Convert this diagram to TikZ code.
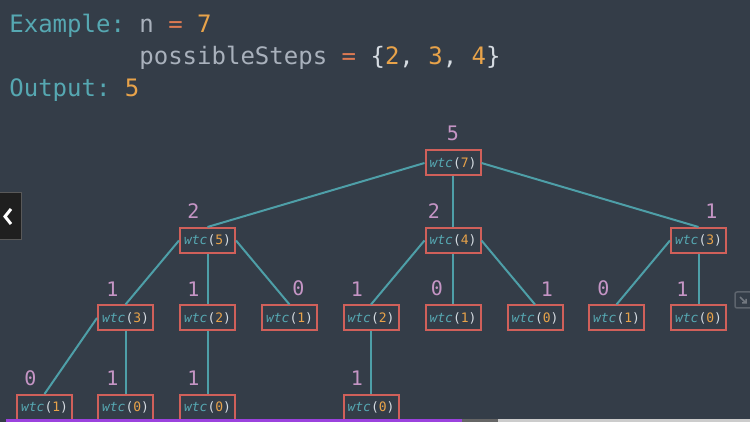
\documentclass[tikz,border=0pt]{standalone}
\usepackage{fontspec}
\setmonofont{DejaVu Sans Mono}
\usetikzlibrary{trees}

\definecolor{bgslate}{HTML}{343D48}
\definecolor{kwteal}{HTML}{56A8B2}
\definecolor{idgray}{HTML}{A9B1BC}
\definecolor{eqorange}{HTML}{DE7A52}
\definecolor{numorange}{HTML}{E8A34A}
\definecolor{brwhite}{HTML}{D6DCE2}
\definecolor{cntpink}{HTML}{C595C5}
\definecolor{boxred}{HTML}{D0605A}
\definecolor{edgeteal}{HTML}{4E9FA8}
\definecolor{barpurple}{HTML}{9B42DE}

\newcommand{\wtc}[1]{\textcolor{kwteal}{\itshape wtc}\textcolor{brwhite}{(}\textcolor{numorange}{#1}\textcolor{brwhite}{)}}

\begin{document}
\begin{tikzpicture}[x=0.5pt, y=-0.5pt, label distance=4pt,
	parent anchor=south, child anchor=north]
	\tikzstyle{box}=[draw=boxred, line width=1pt, inner xsep=2pt, inner ysep=0pt,
	minimum width=27.5pt, minimum height=12.5pt,
	font=\ttfamily\fontsize{6.5}{8}\selectfont]
	\tikzstyle{lbl}=[text=cntpink, inner sep=0pt, font=\ttfamily\fontsize{10}{12}\selectfont]
	\tikzstyle{cnt}=[label={[lbl]above:#1}]
	\tikzset{cntl/.style 2 args={label={[lbl,xshift=#1]above:#2}}}
	\tikzstyle{hdr}=[anchor=base west, inner sep=0pt, font=\ttfamily\fontsize{12}{14}\selectfont]
	\tikzstyle{lc}=[parent anchor=west]
	\tikzstyle{mc}=[parent anchor=south]
	\tikzstyle{rc}=[parent anchor=east]
	\tikzstyle{every child node}=[box]
	\tikzstyle{edge from parent}=[draw=edgeteal, line width=1pt]
	\tikzstyle{level 1}=[sibling distance=122.75pt, level distance=38.75pt]
	\tikzstyle{level 2}=[sibling distance=41pt, level distance=38.75pt]
	\tikzstyle{level 3}=[sibling distance=40.5pt, level distance=44.75pt]

	% background
	\fill[bgslate] (0,0) rectangle (750,422);
	\useasboundingbox (0,0) rectangle (750,422);

	% example text
	\node[hdr] (ex) at (9,33) {\textcolor{kwteal}{Example:} \textcolor{idgray}{n} \textcolor{eqorange}{=} \textcolor{numorange}{7}};
	\node[hdr] (st) at (139,65) {\textcolor{idgray}{possibleSteps} \textcolor{eqorange}{=} \textcolor{brwhite}{\{}\textcolor{numorange}{2}\textcolor{brwhite}{,} \textcolor{numorange}{3}\textcolor{brwhite}{,} \textcolor{numorange}{4}\textcolor{brwhite}{\}}};
	\node[hdr] (out) at (9,97) {\textcolor{kwteal}{Output:} \textcolor{numorange}{5}};

	% call tree
	\node[box, cnt=5] (r7) at (453,163) {\wtc{7}}
	child[lc] {node[cntl={-7pt}{2}] (a5) {\wtc{5}}
		child[lc] {node[cntl={-6.5pt}{1}] (b3) {\wtc{3}}
			child[lc] {node[cntl={-7pt}{0}] (e1) {\wtc{1}}}
			child[mc] {node[cntl={-6.5pt}{1}] (e0) {\wtc{0}}}
			child[missing]
		}
		child[mc] {node[cntl={-7pt}{1}] (b2) {\wtc{2}}
			child[mc] {node[cntl={-7pt}{1}] (f0) {\wtc{0}}}
		}
		child[rc] {node[cntl={4.5pt}{0}] (b1) {\wtc{1}}}
	}
	child[mc] {node[cntl={-9.5pt}{2}] (a4) {\wtc{4}}
		child[lc] {node[cntl={-7pt}{1}] (c2) {\wtc{2}}
			child[mc] {node[cntl={-7pt}{1}] (g0) {\wtc{0}}}
		}
		child[mc] {node[cntl={-8pt}{0}] (c1) {\wtc{1}}}
		child[rc] {node[cntl={6pt}{1}] (c0) {\wtc{0}}}
	}
	child[rc] {node[cntl={6.5pt}{1}] (a3) {\wtc{3}}
		child[lc] {node[cntl={-6.5pt}{0}] (d1) {\wtc{1}}}
		child[mc] {node[cntl={-8pt}{1}] (d0) {\wtc{0}}}
		child[missing]
	};

	% slide controls
	\draw[fill=black!88, draw=gray!70!black, line width=.5pt] (-2,193) rectangle (21,240);
	\draw[white, line width=1.5pt] (11,209) -- (5,216.5) -- (11,224);
	\draw[bgslate!80!white, line width=.75pt, rounded corners=1pt] (735,292) rectangle (752,308);
	\draw[bgslate!70!white, line width=.75pt] (740,297) -- (746,303) (742,303) -- (746,303) -- (746,299);
	\fill[barpurple] (6,419) rectangle (462,422);
	\fill[gray!80!black] (462,419) rectangle (498,422);
	\fill[gray!40] (498,419) rectangle (750,422);
\end{tikzpicture}
\end{document}
